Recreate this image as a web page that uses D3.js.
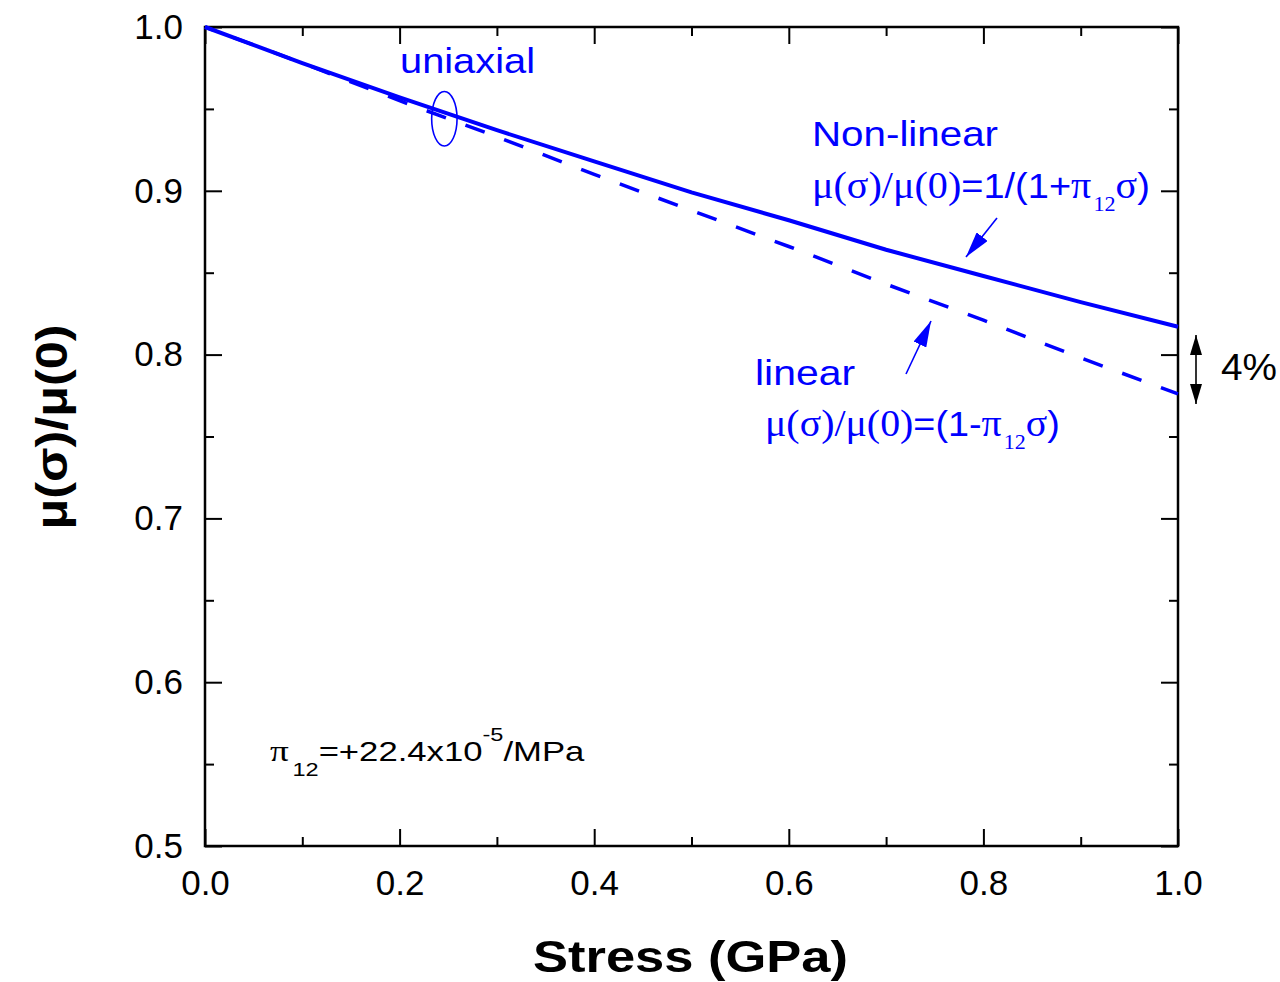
<!DOCTYPE html>
<html>
<head>
<meta charset="utf-8">
<script src="https://cdn.jsdelivr.net/npm/d3@7"></script>
<style>
  html, body { margin: 0; padding: 0; background: #fff; }
  svg { display: block; }
</style>
</head>
<body>
<script>
// ---- data ----
const stress = [0.0, 0.1, 0.2, 0.3, 0.4, 0.5, 0.6, 0.7, 0.8, 0.9, 1.0];
const nonLinear = [1.000, 0.978, 0.957, 0.937, 0.918, 0.899, 0.882, 0.864, 0.848, 0.832, 0.817];
const linear = [1.000, 0.978, 0.955, 0.933, 0.910, 0.888, 0.866, 0.843, 0.821, 0.798, 0.776];
const xMajorTicks = [0.0, 0.2, 0.4, 0.6, 0.8, 1.0];
const xMinorTicks = [0.1, 0.3, 0.5, 0.7, 0.9];
const yMajorTicks = [0.5, 0.6, 0.7, 0.8, 0.9, 1.0];
const yMinorTicks = [0.55, 0.65, 0.75, 0.85, 0.95];
const xTitle = "Stress (GPa)";
const yTitle = "μ(σ)/μ(0)";
const gapLabel = "4%";

const W = 1280, H = 982;
const svg = d3.select("body").append("svg").attr("width", W).attr("height", H);
svg.append("rect").attr("width", W).attr("height", H).attr("fill", "#fff");

const x = d3.scaleLinear().domain([0, 1]).range([205, 1178]);
const y = d3.scaleLinear().domain([0.5, 1.0]).range([846, 27]);

const SANS = "'Liberation Sans', Arial, Helvetica, sans-serif";
const SERIF = "'Liberation Serif', 'Times New Roman', serif";
const BLUE = "#0000ff";

const defs = svg.append("defs");
defs.append("marker").attr("id", "arrBlue")
  .attr("markerUnits", "userSpaceOnUse")
  .attr("viewBox", "0 0 26 14").attr("refX", 26).attr("refY", 7)
  .attr("markerWidth", 26).attr("markerHeight", 14)
  .attr("orient", "auto")
  .append("path").attr("d", "M0,0 L26,7 L0,14 Z").attr("fill", BLUE);
defs.append("marker").attr("id", "arrBlack")
  .attr("markerUnits", "userSpaceOnUse")
  .attr("viewBox", "0 0 20 12").attr("refX", 20).attr("refY", 6)
  .attr("markerWidth", 20).attr("markerHeight", 12)
  .attr("orient", "auto-start-reverse")
  .append("path").attr("d", "M0,0 L20,6 L0,12 Z").attr("fill", "#000");

// ---- axes ----
function styleAxis(g) {
  g.select(".domain").remove();
  g.selectAll(".tick line").attr("stroke", "#000").attr("stroke-width", 2);
  g.selectAll("text").attr("font-family", SANS).attr("font-size", 35).attr("fill", "#000");
}
const MAJ = 17, MIN = 9;
const [x0, x1] = x.range();
const [yb, yt] = y.range();

svg.append("g").attr("transform", `translate(0,${yb})`)
  .call(d3.axisBottom(x).tickValues(xMajorTicks).tickFormat(d3.format(".1f"))
    .tickSizeInner(-MAJ).tickSizeOuter(0).tickPadding(24))
  .call(styleAxis);
svg.append("g").attr("transform", `translate(0,${yb})`)
  .call(d3.axisBottom(x).tickValues(xMinorTicks).tickFormat("").tickSizeInner(-MIN).tickSizeOuter(0))
  .call(styleAxis);
svg.append("g").attr("transform", `translate(0,${yt})`)
  .call(d3.axisTop(x).tickValues(xMajorTicks).tickFormat("").tickSizeInner(-MAJ).tickSizeOuter(0))
  .call(styleAxis);
svg.append("g").attr("transform", `translate(0,${yt})`)
  .call(d3.axisTop(x).tickValues(xMinorTicks).tickFormat("").tickSizeInner(-MIN).tickSizeOuter(0))
  .call(styleAxis);

svg.append("g").attr("transform", `translate(${x0},0)`)
  .call(d3.axisLeft(y).tickValues(yMajorTicks).tickFormat(d3.format(".1f"))
    .tickSizeInner(-MAJ).tickSizeOuter(0).tickPadding(22))
  .call(styleAxis);
svg.append("g").attr("transform", `translate(${x0},0)`)
  .call(d3.axisLeft(y).tickValues(yMinorTicks).tickFormat("").tickSizeInner(-MIN).tickSizeOuter(0))
  .call(styleAxis);
svg.append("g").attr("transform", `translate(${x1},0)`)
  .call(d3.axisRight(y).tickValues(yMajorTicks).tickFormat("").tickSizeInner(-MAJ).tickSizeOuter(0))
  .call(styleAxis);
svg.append("g").attr("transform", `translate(${x1},0)`)
  .call(d3.axisRight(y).tickValues(yMinorTicks).tickFormat("").tickSizeInner(-MIN).tickSizeOuter(0))
  .call(styleAxis);

// frame
svg.append("rect").attr("x", x0).attr("y", yt).attr("width", x1 - x0).attr("height", yb - yt)
  .attr("fill", "none").attr("stroke", "#000").attr("stroke-width", 2.5);

// ---- lines ----
const line = d3.line().x((d, i) => x(stress[i])).y(d => y(d));
svg.append("path").datum(linear).attr("d", line)
  .attr("fill", "none").attr("stroke", BLUE).attr("stroke-width", 3.5)
  .attr("stroke-dasharray", "20.5,20.8").attr("stroke-dashoffset", 10.8);
svg.append("path").datum(nonLinear).attr("d", line)
  .attr("fill", "none").attr("stroke", BLUE).attr("stroke-width", 4);

// ---- helper: stretch text horizontally to a target width ----
function fitWidth(sel, left, target) {
  const bb = sel.node().getBBox();
  const s = target / bb.width;
  sel.attr("transform", `translate(${left},0) scale(${s},1) translate(${-left},0)`);
}

// ---- axis titles ----
svg.append("text").attr("x", 690.5).attr("y", 972).attr("text-anchor", "middle")
  .attr("font-family", SANS).attr("font-weight", "bold").attr("font-size", 45)
  .attr("textLength", 315).attr("lengthAdjust", "spacingAndGlyphs")
  .text(xTitle);
svg.append("text").attr("transform", "translate(67,427) rotate(-90)").attr("text-anchor", "middle")
  .attr("font-family", SANS).attr("font-weight", "bold").attr("font-size", 44)
  .attr("textLength", 205).attr("lengthAdjust", "spacingAndGlyphs")
  .text(yTitle);

// ---- annotations ----
svg.append("text").attr("x", 400).attr("y", 73)
  .attr("font-family", SANS).attr("font-size", 35).attr("fill", BLUE)
  .attr("textLength", 135).attr("lengthAdjust", "spacingAndGlyphs")
  .text("uniaxial");
svg.append("ellipse").attr("cx", x(0.246)).attr("cy", y(0.944)).attr("rx", 12.7).attr("ry", 27.3)
  .attr("fill", "none").attr("stroke", BLUE).attr("stroke-width", 1.6);

svg.append("text").attr("x", 812).attr("y", 146)
  .attr("font-family", SANS).attr("font-size", 35).attr("fill", BLUE)
  .attr("textLength", 186).attr("lengthAdjust", "spacingAndGlyphs")
  .text("Non-linear");

function formula(xp, yp, parts, target) {
  const t = svg.append("text").attr("x", xp).attr("y", yp).attr("fill", BLUE).attr("font-size", 36);
  parts.forEach(p => {
    const s = t.append("tspan").attr("font-family", p.serif ? SERIF : SANS).text(p.t);
    if (p.serif) s.attr("font-size", 38);
    if (p.sub) s.attr("font-size", 21).attr("dy", 13).attr("dx", 2);
    if (p.after) s.attr("dy", -13);
  });
  fitWidth(t, xp, target);
  return t;
}
formula(812, 198, [
  { t: "μ(σ)/μ(0)", serif: true },
  { t: "=1/(1+" },
  { t: "π", serif: true },
  { t: "12", serif: true, sub: true },
  { t: "σ", serif: true, after: true },
  { t: ")" }
], 338);

svg.append("text").attr("x", 755).attr("y", 385)
  .attr("font-family", SANS).attr("font-size", 35).attr("fill", BLUE)
  .attr("textLength", 100).attr("lengthAdjust", "spacingAndGlyphs")
  .text("linear");
formula(765, 436, [
  { t: "μ(σ)/μ(0)", serif: true },
  { t: "=(1-" },
  { t: "π", serif: true },
  { t: "12", serif: true, sub: true },
  { t: "σ", serif: true, after: true },
  { t: ")" }
], 295);

// annotation arrows
svg.append("line").attr("x1", 997).attr("y1", 218).attr("x2", 966).attr("y2", 257)
  .attr("stroke", BLUE).attr("stroke-width", 1.6).attr("marker-end", "url(#arrBlue)");
svg.append("line").attr("x1", 906).attr("y1", 374).attr("x2", 931).attr("y2", 321)
  .attr("stroke", BLUE).attr("stroke-width", 1.6).attr("marker-end", "url(#arrBlue)");

// 4% gap arrow
svg.append("line").attr("x1", 1196).attr("y1", 335).attr("x2", 1196).attr("y2", 404)
  .attr("stroke", "#000").attr("stroke-width", 1.6)
  .attr("marker-start", "url(#arrBlack)").attr("marker-end", "url(#arrBlack)");
svg.append("text").attr("x", 1221).attr("y", 380)
  .attr("font-family", SANS).attr("font-size", 36).attr("fill", "#000")
  .attr("textLength", 56).attr("lengthAdjust", "spacingAndGlyphs")
  .text(gapLabel);

// pi12 label
const pt = svg.append("text").attr("x", 270).attr("y", 761).attr("fill", "#000").attr("font-size", 28).attr("font-family", SANS);
pt.append("tspan").attr("font-family", SERIF).attr("font-size", 30).text("π");
pt.append("tspan").attr("font-size", 19).attr("dy", 15).attr("dx", 3).text("12");
pt.append("tspan").attr("dy", -15).text("=+22.4x10");
pt.append("tspan").attr("font-size", 19).attr("dy", -20).text("-5");
pt.append("tspan").attr("dy", 20).text("/MPa");
fitWidth(pt, 270, 315);
</script>
</body>
</html>
